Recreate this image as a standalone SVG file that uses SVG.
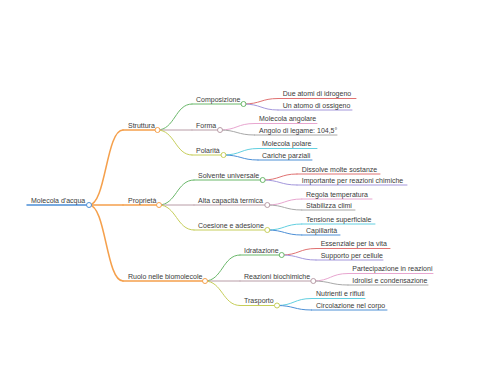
<svg xmlns="http://www.w3.org/2000/svg" width="480" height="384" viewBox="0 0 480 384">
<style>
text{font-family:"Liberation Sans",Arial,sans-serif;font-size:7px;fill:#3a3a3a}
path{fill:none;stroke-width:1;stroke-linecap:round}
circle{fill:#fff;stroke-width:1}
.bl{stroke:#4c8fd6}.or{stroke:#f5a04c}.gr{stroke:#6ab86a}.rd{stroke:#e07272}.pu{stroke:#a497dc}
.br{stroke:#b89ca6}.pk{stroke:#e8a6d0}.gy{stroke:#a8a8a8}.ol{stroke:#c6ce5a}.cy{stroke:#62cfe0}
.w15{stroke-width:1.5}
</style>
<rect width="480" height="384" fill="#fff"/>
<g id="connectors">
<path class="or w15" d="M89,205 C106,205 106,130 123,130"/>
<path class="or w15" d="M89,205 L123,205"/>
<path class="or w15" d="M89,205 C106,205 106,281 123,281"/>
<path class="gr" d="M157.5,130 C175,130 175,104 192,104"/>
<path class="br" d="M157.5,130 L192,130"/>
<path class="ol" d="M157.5,130 C175,130 175,155 192,155"/>
<path class="rd" d="M243.5,104 C261,104 261,98.5 278,98.5"/>
<path class="pu" d="M243.5,104 C261,104 261,110 278,110"/>
<path class="pk" d="M220,130 C237,130 237,123.5 254.5,123.5"/>
<path class="gy" d="M220,130 C237,130 237,135 254.5,135"/>
<path class="cy" d="M223.5,155 C241,155 241,148.5 258,148.5"/>
<path class="bl" d="M223.5,155 C241,155 241,160 258,160"/>
<path class="gr" d="M159,205 C176.5,205 176.5,180 194,180"/>
<path class="br" d="M159,205 L194,205"/>
<path class="ol" d="M159,205 C176.5,205 176.5,230 194,230"/>
<path class="rd" d="M262.7,180 C280,180 280,174 297,174"/>
<path class="pu" d="M262.7,180 C280,180 280,185 297,185"/>
<path class="pk" d="M267.3,205 C284.5,205 284.5,199 301.8,199"/>
<path class="gy" d="M267.3,205 C284.5,205 284.5,210 301.8,210"/>
<path class="cy" d="M267.3,230 C284.5,230 284.5,224 301.8,224"/>
<path class="bl" d="M267.3,230 C284.5,230 284.5,235 301.8,235"/>
<path class="gr" d="M205,281 C222.5,281 222.5,255 240,255"/>
<path class="br" d="M205,281 L240,281"/>
<path class="ol" d="M205,281 C222.5,281 222.5,305.5 240,305.5"/>
<path class="rd" d="M281.7,255 C299,255 299,248.5 316,248.5"/>
<path class="pu" d="M281.7,255 C299,255 299,260 316,260"/>
<path class="pk" d="M313.3,281 C330.5,281 330.5,273.5 348,273.5"/>
<path class="gy" d="M313.3,281 C330.5,281 330.5,285 348,285"/>
<path class="cy" d="M277,305.5 C294,305.5 294,298.5 311.5,298.5"/>
<path class="bl" d="M277,305.5 C294,305.5 294,310 311.5,310"/>
</g>
<g id="root"><path class="bl w15" d="M27,205 H89"/><circle class="bl" cx="89" cy="205" r="2.5"/><text x="31" y="202.5">Molecola d'acqua</text></g>
<g id="struttura"><path class="or w15" d="M123,130 H157.5"/><circle class="or" cx="157.5" cy="130" r="2.5"/><text x="128" y="127.5">Struttura</text></g>
<g id="proprieta"><path class="or w15" d="M123,205 H159"/><circle class="or" cx="159" cy="205" r="2.5"/><text x="128" y="202.5">Proprietà</text></g>
<g id="ruolo"><path class="or w15" d="M123,281 H205"/><circle class="or" cx="205" cy="281" r="2.5"/><text x="128" y="278.5">Ruolo nelle biomolecole</text></g>
<g id="composizione"><path class="gr" d="M192,104 H243.5"/><circle class="gr" cx="243.5" cy="104" r="2.5"/><text x="196" y="101.5">Composizione</text></g>
<g id="forma"><path class="br" d="M192,130 H220"/><circle class="br" cx="220" cy="130" r="2.5"/><text x="196" y="127.5">Forma</text></g>
<g id="polarita"><path class="ol" d="M192,155 H223.5"/><circle class="ol" cx="223.5" cy="155" r="2.5"/><text x="196" y="152.5">Polarità</text></g>
<g id="solvente"><path class="gr" d="M194,180 H262.7"/><circle class="gr" cx="262.7" cy="180" r="2.5"/><text x="198" y="177.5">Solvente universale</text></g>
<g id="alta"><path class="br" d="M194,205 H267.3"/><circle class="br" cx="267.3" cy="205" r="2.5"/><text x="198" y="202.5">Alta capacità termica</text></g>
<g id="coesione"><path class="ol" d="M194,230 H267.3"/><circle class="ol" cx="267.3" cy="230" r="2.5"/><text x="198" y="227.5">Coesione e adesione</text></g>
<g id="idratazione"><path class="gr" d="M240,255 H281.7"/><circle class="gr" cx="281.7" cy="255" r="2.5"/><text x="244" y="252.5">Idratazione</text></g>
<g id="reazioni"><path class="br" d="M240,281 H313.3"/><circle class="br" cx="313.3" cy="281" r="2.5"/><text x="244" y="278.5">Reazioni biochimiche</text></g>
<g id="trasporto"><path class="ol" d="M240,305.5 H277"/><circle class="ol" cx="277" cy="305.5" r="2.5"/><text x="244" y="303">Trasporto</text></g>
<g id="due-atomi"><path class="rd" d="M278,98.5 H356"/><text x="282.7" y="96">Due atomi di idrogeno</text></g>
<g id="un-atomo"><path class="pu" d="M278,110 H352"/><text x="282.7" y="107.5">Un atomo di ossigeno</text></g>
<g id="mol-angolare"><path class="pk" d="M254.5,123.5 H317"/><text x="259" y="121">Molecola angolare</text></g>
<g id="angolo"><path class="gy" d="M254.5,135 H337"/><text x="259" y="132.5">Angolo di legame: 104,5°</text></g>
<g id="mol-polare"><path class="cy" d="M258,148.5 H317"/><text x="262" y="146">Molecola polare</text></g>
<g id="cariche"><path class="bl" d="M258,160 H312"/><text x="262" y="157.5">Cariche parziali</text></g>
<g id="dissolve"><path class="rd" d="M297,174 H380"/><text x="301.7" y="171.5">Dissolve molte sostanze</text></g>
<g id="importante"><path class="pu" d="M297,185 H407"/><text x="301.7" y="182.5">Importante per reazioni chimiche</text></g>
<g id="regola"><path class="pk" d="M301.8,199 H372"/><text x="306" y="196.5">Regola temperatura</text></g>
<g id="stabilizza"><path class="gy" d="M301.8,210 H355"/><text x="306" y="207.5">Stabilizza climi</text></g>
<g id="tensione"><path class="cy" d="M301.8,224 H375"/><text x="306" y="221.5">Tensione superficiale</text></g>
<g id="capillarita"><path class="bl" d="M301.8,235 H340"/><text x="306" y="232.5">Capillarità</text></g>
<g id="essenziale"><path class="rd" d="M316,248.5 H390"/><text x="320.7" y="246">Essenziale per la vita</text></g>
<g id="supporto"><path class="pu" d="M316,260 H383"/><text x="320.7" y="257.5">Supporto per cellule</text></g>
<g id="partecipazione"><path class="pk" d="M348,273.5 H433"/><text x="352.3" y="271">Partecipazione in reazioni</text></g>
<g id="idrolisi"><path class="gy" d="M348,285 H428"/><text x="352.3" y="282.5">Idrolisi e condensazione</text></g>
<g id="nutrienti"><path class="cy" d="M311.5,298.5 H365"/><text x="316" y="296">Nutrienti e rifiuti</text></g>
<g id="circolazione"><path class="bl" d="M311.5,310 H387"/><text x="316" y="307.5">Circolazione nel corpo</text></g>
</svg>
